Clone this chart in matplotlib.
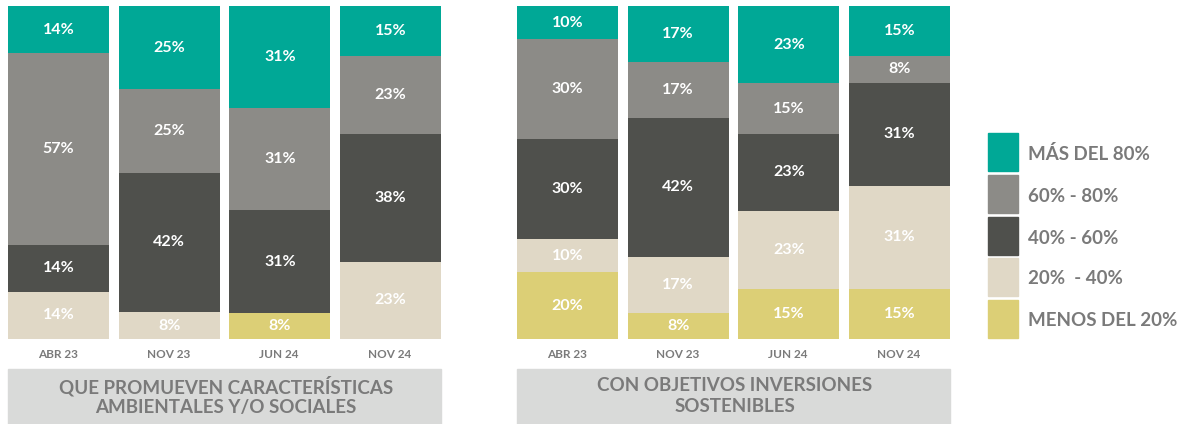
import numpy as np
import matplotlib.pyplot as plt
from matplotlib.patches import Rectangle

plt.rcParams['font.family'] = ['Lato', 'DejaVu Sans']

# data (bottom -> top: menos 20%, 20-40%, 40-60%, 60-80%, mas 80%)
periods = ['ABR 23', 'NOV 23', 'JUN 24', 'NOV 24']
series = ['MENOS DEL 20%', '20%  - 40%', '40% - 60%', '60% - 80%', 'MÁS DEL 80%']

ambientales_menos20 = [0, 0, 8, 0]
ambientales_20_40 = [14, 8, 0, 23]
ambientales_40_60 = [14, 42, 31, 38]
ambientales_60_80 = [57, 25, 31, 23]
ambientales_mas80 = [14, 25, 31, 15]

sostenibles_menos20 = [20, 8, 15, 15]
sostenibles_20_40 = [10, 17, 23, 31]
sostenibles_40_60 = [30, 42, 23, 31]
sostenibles_60_80 = [30, 17, 15, 8]
sostenibles_mas80 = [10, 17, 23, 15]

titles = ['QUE PROMUEVEN CARACTERÍSTICAS\nAMBIENTALES Y/O SOCIALES',
          'CON OBJETIVOS INVERSIONES\nSOSTENIBLES']

colors = ['#DCCF76', '#E0D8C6', '#4F504C', '#8C8B87', '#00A896']
text_grey = '#7A7A7A'

W, H = 1189, 424
fig = plt.figure(figsize=(W / 100, H / 100), dpi=100)


def px_axes(x0, y0, x1, y1):
    return fig.add_axes([x0 / W, 1 - y1 / H, (x1 - x0) / W, (y1 - y0) / H])


def draw_panel(x0, data, title):
    ax = px_axes(x0, 6, x0 + 433, 339)
    data = np.array(data, dtype=float)
    totals = data.sum(axis=0)
    x = np.arange(len(periods))
    w = 0.91
    bottom = np.zeros(len(periods))
    for vals, c in zip(data, colors):
        h = vals / totals * 100
        ax.bar(x, h, w, bottom=bottom, color=c, linewidth=0)
        for xi, vi, hi, bi in zip(x, vals, h, bottom):
            if vi > 0:
                ax.text(xi, bi + hi / 2, f'{vi:.0f}%', ha='center', va='center',
                        color='white', fontsize=11.5, fontweight='bold')
        bottom += h
    ax.set_xlim(-w / 2, 3 + w / 2)
    ax.set_ylim(0, 100)
    ax.axis('off')

    # category labels
    for xi, p in zip(x, periods):
        fig.text((x0 + 50 + xi * 110.5) / W, 1 - 355 / H, p, ha='center', va='center',
                 color=text_grey, fontsize=8.5, fontweight='bold')

    # title box
    fig.patches.append(Rectangle((x0 / W, 0), 433 / W, (H - 369) / H,
                                 transform=fig.transFigure, color='#D9DAD9', zorder=0))
    fig.text((x0 + 218) / W, 1 - 396 / H, title, ha='center', va='center',
             color=text_grey, fontsize=13.5, fontweight='bold', linespacing=1.25)


draw_panel(8, [ambientales_menos20, ambientales_20_40, ambientales_40_60,
               ambientales_60_80, ambientales_mas80], titles[0])
draw_panel(517, [sostenibles_menos20, sostenibles_20_40, sostenibles_40_60,
                 sostenibles_60_80, sostenibles_mas80], titles[1])

# legend
leg_top = [133, 175, 217, 258, 300]
for top, label, c in zip(leg_top, series[::-1], colors[::-1]):
    fig.patches.append(Rectangle((988 / W, 1 - (top + 38) / H), 30 / W, 38 / H,
                                 transform=fig.transFigure, color=c))
    fig.text(1028 / W, 1 - (top + 21) / H, label, ha='left', va='center',
             color=text_grey, fontsize=13.5, fontweight='bold')

fig.savefig('out.png', dpi=100)
